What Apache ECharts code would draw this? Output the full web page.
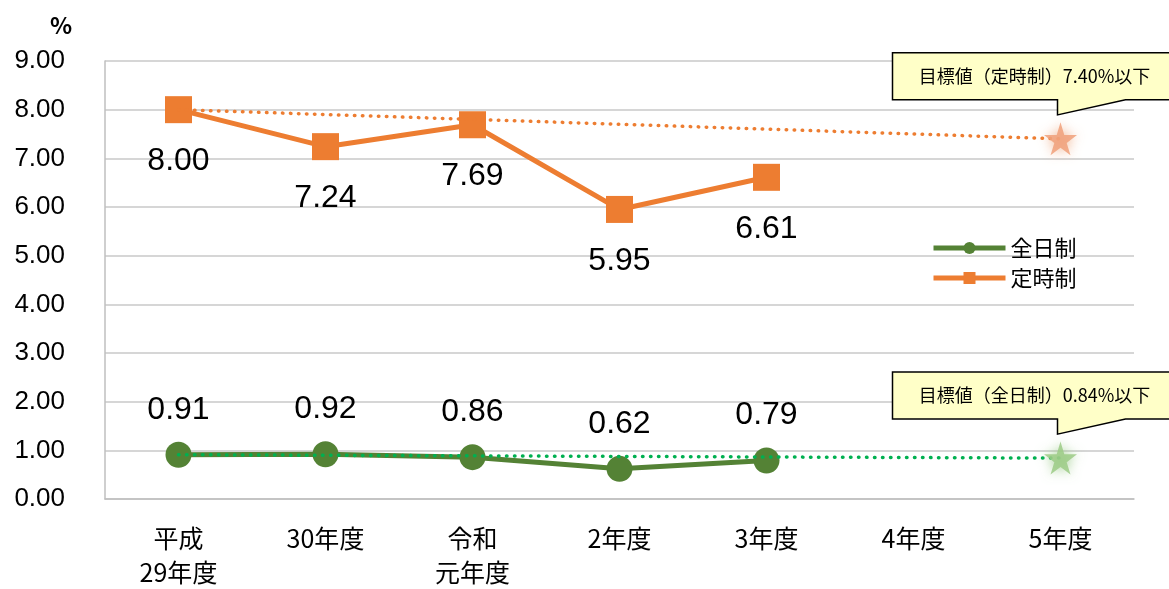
<!DOCTYPE html>
<html>
<head>
<meta charset="utf-8">
<title>中途退学率の推移</title>
<script src="https://cdn.jsdelivr.net/npm/echarts@6/dist/echarts.min.js"></script>
<style>
  html, body { margin: 0; padding: 0; background: #fff; }
  #main { width: 1169px; height: 589px; }
</style>
</head>
<body>
<div id="main"></div>
<script>
// 年度（横軸）
var years = ['平成\n29年度', '30年度', '令和\n元年度', '2年度', '3年度', '4年度', '5年度'];
// 実績値（%）
var zennichi = [0.91, 0.92, 0.86, 0.62, 0.79, null, null];
var teiji = [8.00, 7.24, 7.69, 5.95, 6.61, null, null];
// 目標値（5年度）
var zennichiTarget = [0.91, null, null, null, null, null, 0.84];
var teijiTarget = [8.00, null, null, null, null, null, 7.40];
var zennichiStar = [null, null, null, null, null, null, 0.84];
var teijiStar = [null, null, null, null, null, null, 7.40];
var targetTexts = ['目標値（定時制）7.40%以下', '目標値（全日制）0.84%以下'];

var GREEN = '#548235';
var GREEN_DOT = '#00B050';
var ORANGE = '#ED7D31';
var NUM_FONT = '"Liberation Sans", Arial, sans-serif';
var JP_FONT = '"Noto Sans CJK JP", sans-serif';
var STAR = 'path://M50,0 L61,35 L98,35 L68,57 L79,91 L50,70 L21,91 L32,57 L2,35 L39,35 Z';

var chart = echarts.init(document.getElementById('main'));

var option = {
  animation: false,
  backgroundColor: '#fff',
  grid: { left: 105, right: 35, top: 61, bottom: 82 },
  legend: {
    orient: 'vertical',
    left: 926,
    top: 232,
    itemWidth: 72,
    itemHeight: 15,
    itemGap: 8,
    data: ['全日制', '定時制'],
    lineStyle: { width: 5 },
    textStyle: { fontSize: 22, fontFamily: JP_FONT, color: '#000' }
  },
  xAxis: {
    type: 'category',
    data: years,
    axisLine: { lineStyle: { color: '#BFBFBF', width: 1.5 } },
    axisTick: { show: false },
    axisLabel: {
      margin: 22,
      fontSize: 25,
      lineHeight: 34,
      color: '#000',
      fontFamily: JP_FONT
    }
  },
  yAxis: {
    type: 'value',
    min: 0,
    max: 9,
    interval: 1,
    axisLine: { show: true, lineStyle: { color: '#BFBFBF', width: 1.5 } },
    axisTick: { show: false },
    splitLine: { lineStyle: { color: '#C8C8C8', width: 1.5 } },
    axisLabel: {
      margin: 40,
      fontSize: 26,
      color: '#000',
      fontFamily: NUM_FONT,
      formatter: function (v) { return v.toFixed(2); }
    }
  },
  graphic: [{
    type: 'text',
    left: 50,
    top: 14,
    style: { text: '%', fontSize: 23, fontWeight: 'bold', fill: '#000', fontFamily: JP_FONT }
  }],
  series: [
    {
      name: '全日制',
      type: 'line',
      data: zennichi,
      symbol: 'circle',
      symbolSize: 26,
      lineStyle: { color: GREEN, width: 5 },
      itemStyle: { color: GREEN },
      label: {
        show: true,
        position: 'top',
        distance: 16,
        fontSize: 32,
        color: '#000',
        fontFamily: NUM_FONT,
        formatter: function (p) { return p.value.toFixed(2); }
      },
      z: 2
    },
    {
      name: '定時制',
      type: 'line',
      data: teiji,
      symbol: 'rect',
      symbolSize: 27,
      lineStyle: { color: ORANGE, width: 5 },
      itemStyle: { color: ORANGE },
      label: {
        show: true,
        position: 'bottom',
        distance: 22,
        fontSize: 32,
        color: '#000',
        fontFamily: NUM_FONT,
        formatter: function (p) { return p.value.toFixed(2); }
      },
      z: 2
    },
    {
      name: '全日制目標',
      type: 'line',
      data: zennichiTarget,
      connectNulls: true,
      symbol: 'none',
      lineStyle: { color: GREEN_DOT, width: 3.5, type: [0.5, 7.5], cap: 'round' },
      z: 3
    },
    {
      name: '定時制目標',
      type: 'line',
      data: teijiTarget,
      connectNulls: true,
      symbol: 'none',
      lineStyle: { color: ORANGE, width: 3.5, type: [0.5, 7.5], cap: 'round' },
      z: 3
    },
    {
      name: '全日制星',
      type: 'scatter',
      data: zennichiStar,
      symbol: STAR,
      symbolSize: 33,
      itemStyle: { color: '#9CCB86', opacity: 0.85, shadowBlur: 12, shadowColor: 'rgba(150,200,130,0.9)' },
      z: 4
    },
    {
      name: '定時制星',
      type: 'scatter',
      data: teijiStar,
      symbol: STAR,
      symbolSize: 33,
      itemStyle: { color: '#F0A07A', opacity: 0.85, shadowBlur: 12, shadowColor: 'rgba(240,170,130,0.9)' },
      z: 4
    }
  ]
};

chart.setOption(option);

// 吹き出し（目標値）を星の位置に合わせて置く
function callout(value, text) {
  var p = chart.convertToPixel({ xAxisIndex: 0, yAxisIndex: 0 }, [6, value]);
  var sx = p[0], sy = p[1];
  var top = sy - 86, bottom = sy - 39;
  return [{
    type: 'polygon',
    shape: {
      points: [
        [sx - 168, top], [sx + 118, top], [sx + 118, bottom],
        [sx + 65, bottom], [sx - 3, sy - 24], [sx - 3, bottom],
        [sx - 168, bottom]
      ]
    },
    style: { fill: '#FFFFC8', stroke: '#000', lineWidth: 1.5 },
    z: 10
  }, {
    type: 'text',
    x: sx - 26,
    y: (top + bottom) / 2,
    style: {
      text: text,
      fontSize: 18,
      fontFamily: JP_FONT,
      fill: '#000',
      align: 'center',
      verticalAlign: 'middle'
    },
    z: 11
  }];
}

var extra = option.graphic.concat(callout(teijiStar[6], targetTexts[0]), callout(zennichiStar[6], targetTexts[1]));
chart.setOption({ graphic: extra });
</script>
</body>
</html>
